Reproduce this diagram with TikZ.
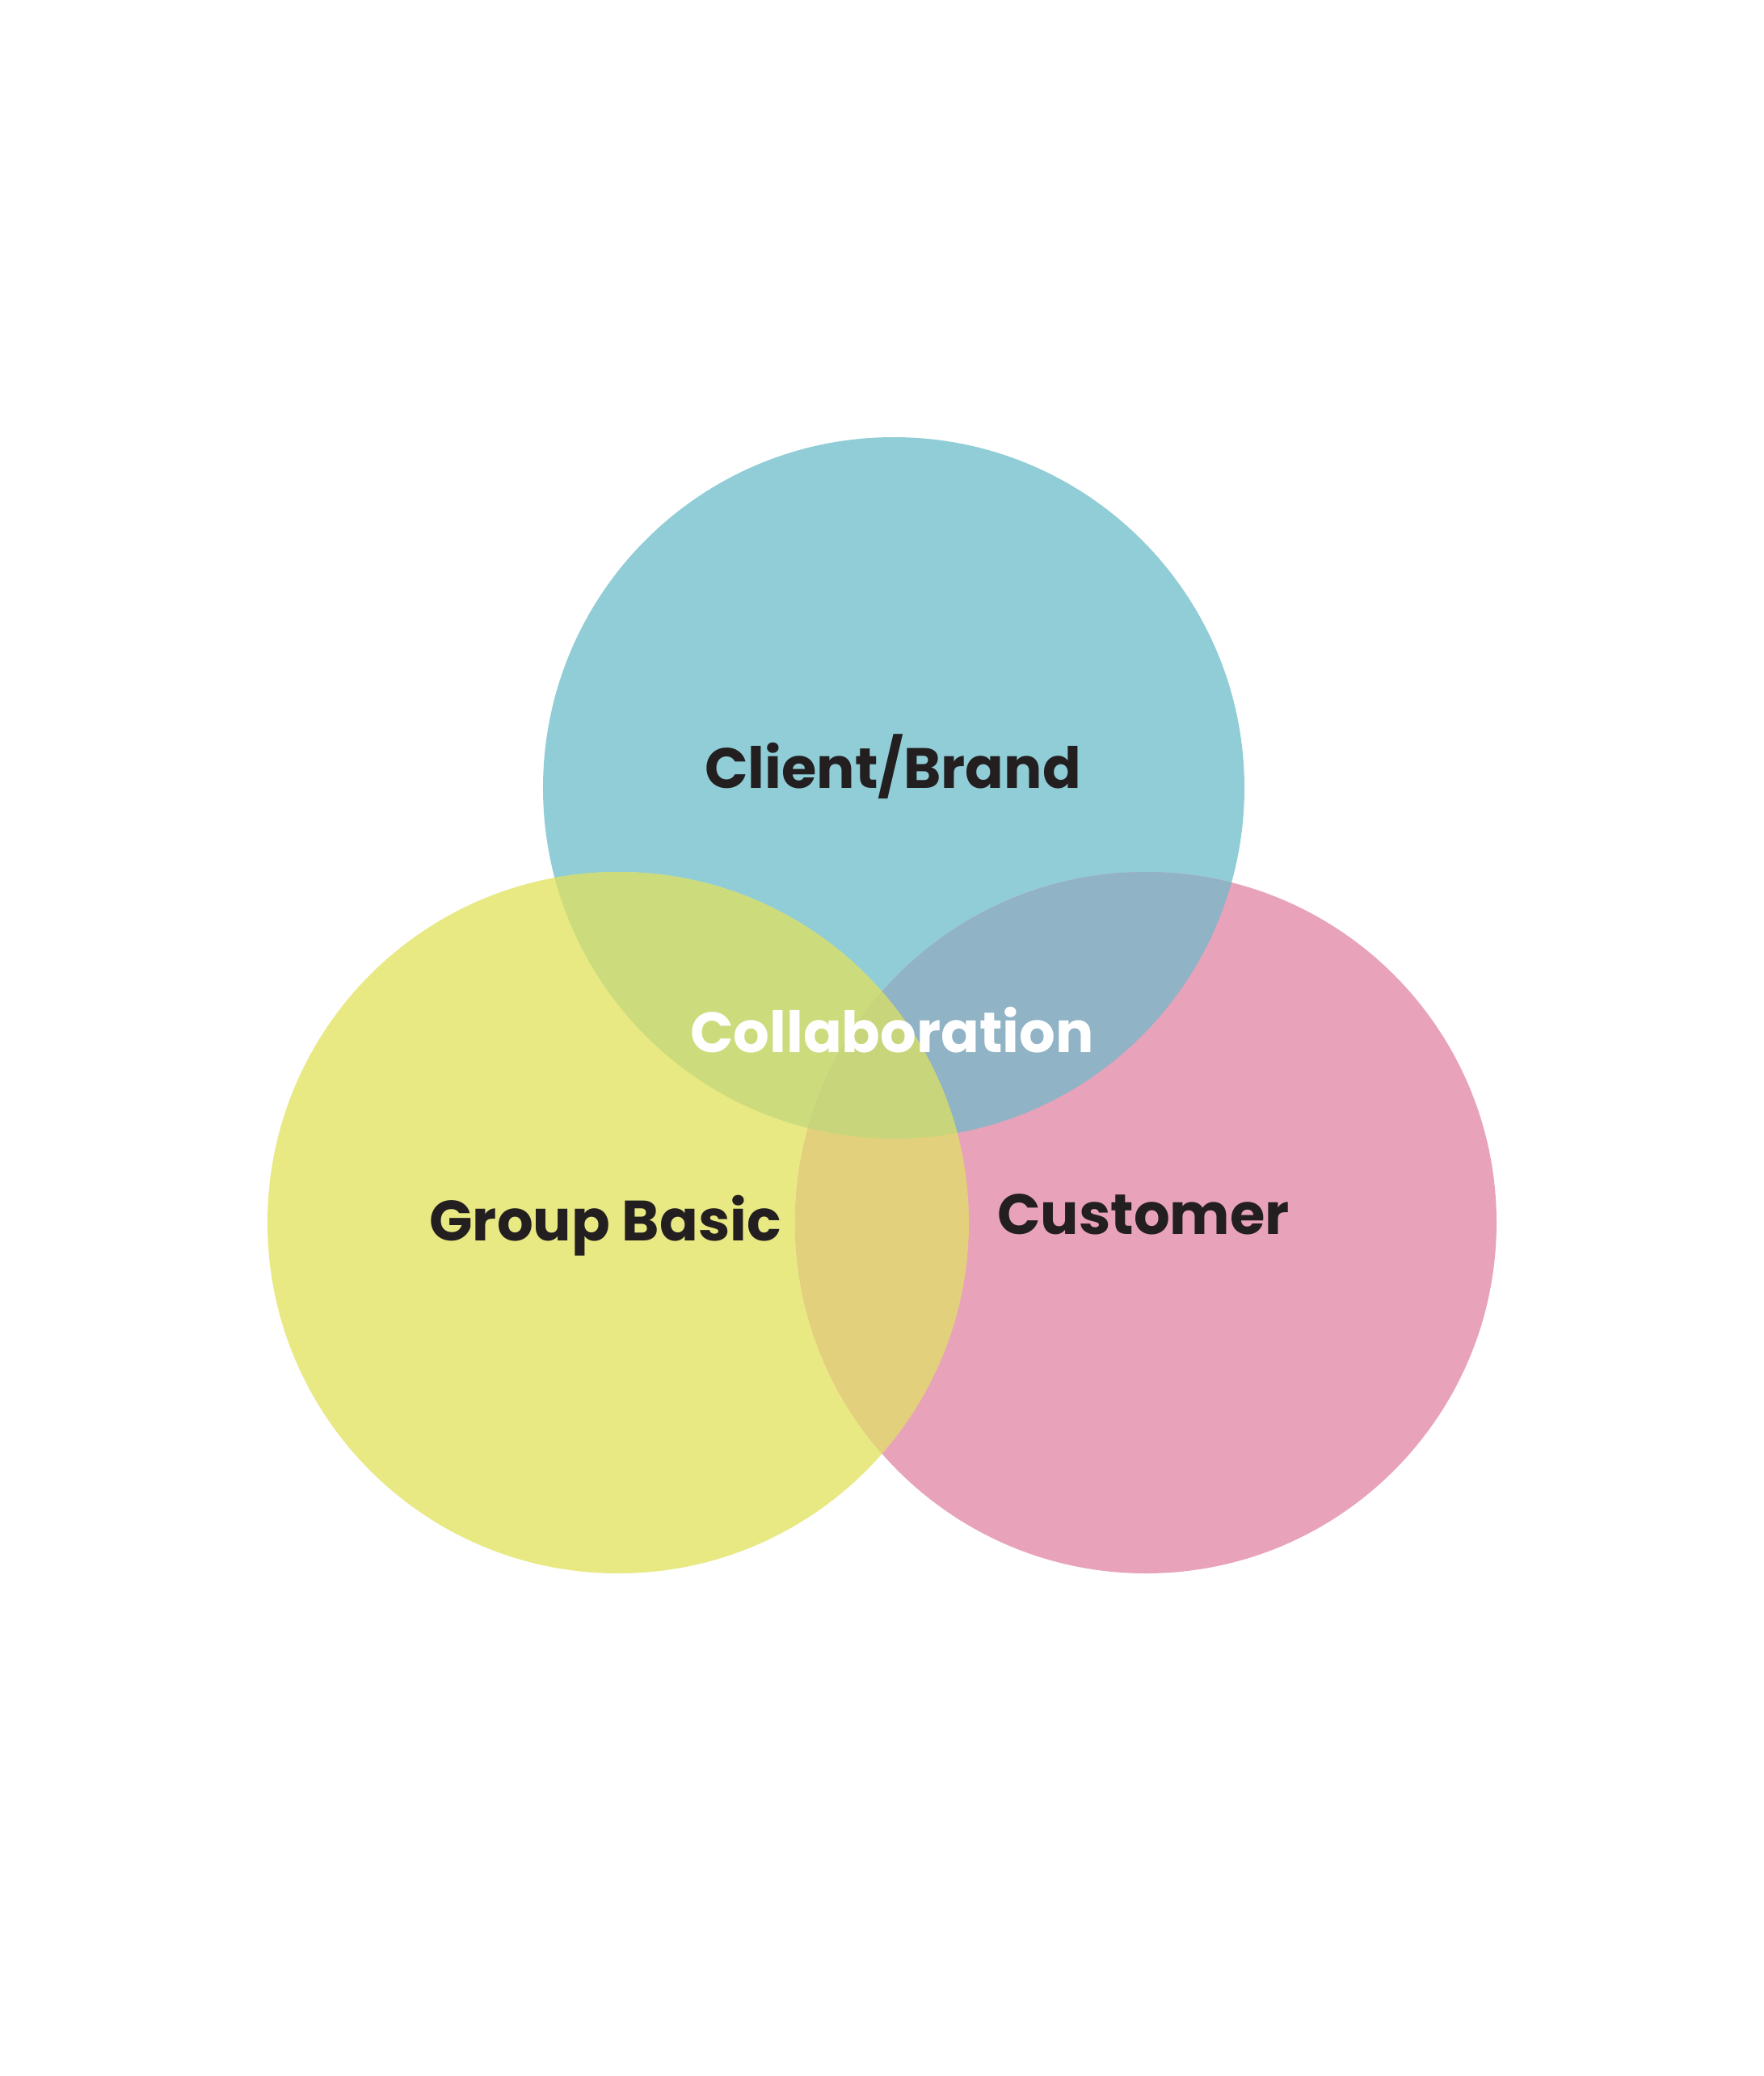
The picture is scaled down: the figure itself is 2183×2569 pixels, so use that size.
\documentclass[tikz,border=0pt]{standalone}
\usepackage{fontspec}
\setmainfont{Poppins}
\definecolor{cblue}{HTML}{90CDD6}
\definecolor{cyellow}{HTML}{E8E983}
\definecolor{cpink}{HTML}{E8A3BB}
\definecolor{cby}{HTML}{CCDC7C}
\definecolor{cbp}{HTML}{90B3C5}
\definecolor{cyp}{HTML}{E3D07C}
\definecolor{cbyp}{HTML}{C9D57A}
\definecolor{ctext}{HTML}{231F20}
\begin{document}
\begin{tikzpicture}[x=0.01cm,y=-0.01cm,
  lbl/.style={font=\fontsize{20}{24}\selectfont\bfseries, text=ctext, anchor=base, inner sep=0pt},
  lblw/.style={lbl, text=white}]
\useasboundingbox (0,0) rectangle (2183,2569);
\fill[white] (0,0) rectangle (2183,2569);
\def\R{434}
\coordinate (cb) at (1106,975);
\coordinate (cy) at (765,1513);
\coordinate (cp) at (1418,1513);
\fill[cblue] (cb) circle[radius=\R];
\fill[cyellow] (cy) circle[radius=\R];
\fill[cpink] (cp) circle[radius=\R];
\begin{scope}
  \clip (cb) circle[radius=\R];
  \fill[cby] (cy) circle[radius=\R];
\end{scope}
\begin{scope}
  \clip (cb) circle[radius=\R];
  \fill[cbp] (cp) circle[radius=\R];
\end{scope}
\begin{scope}
  \clip (cy) circle[radius=\R];
  \fill[cyp] (cp) circle[radius=\R];
\end{scope}
\begin{scope}
  \clip (cb) circle[radius=\R];
  \clip (cy) circle[radius=\R];
  \fill[cbyp] (cp) circle[radius=\R];
\end{scope}
\node[lbl] (client) at (1105,975) {Client/Brand};
\node[lblw] (collab) at (1104,1302) {Collaboration};
\node[lbl] (group) at (749,1535) {Group Basic};
\node[lbl] (cust) at (1415,1527) {Customer};
\end{tikzpicture}
\end{document}
